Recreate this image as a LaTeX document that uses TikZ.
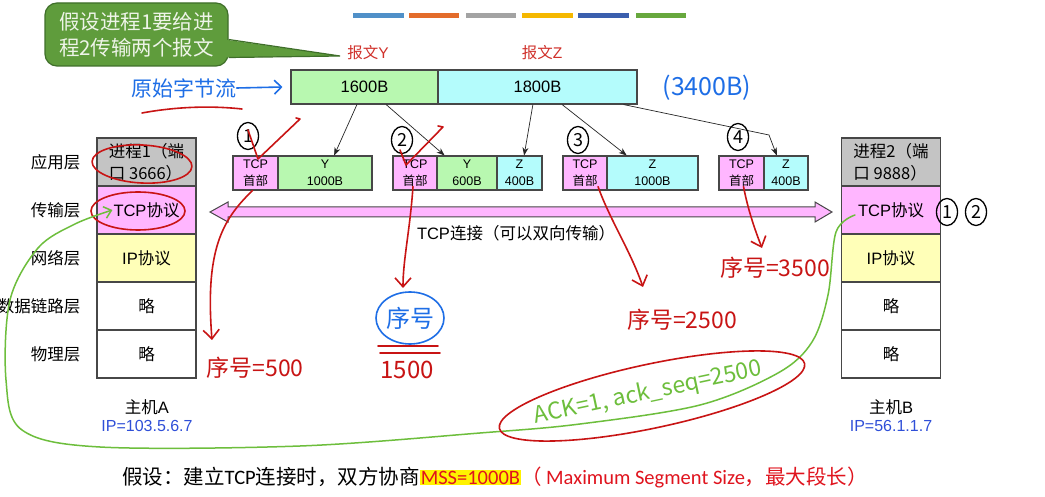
\documentclass[tikz,border=0pt]{standalone}
\usepackage{fontspec}
\setmainfont{Liberation Sans}
\newfontfamily\cjk{Noto Sans CJK SC}
\newfontfamily\carl{Carlito}
\usetikzlibrary{arrows.meta,shapes.geometric,calc}
\newcommand\latn[1]{{\rmfamily #1}}
\definecolor{bordc}{HTML}{474747}
\definecolor{appgray}{HTML}{C4C4C4}
\definecolor{tcppink}{HTML}{FFB6FF}
\definecolor{ipyel}{HTML}{FFFFB8}
\definecolor{ygreen}{HTML}{B8F8B0}
\definecolor{zcyan}{HTML}{B4FCFC}
\definecolor{calloutg}{HTML}{5F9C3C}
\definecolor{calloutb}{HTML}{3F6F2A}
\definecolor{callouttxt}{HTML}{EEF4E8}
\definecolor{lblred}{HTML}{D0302A}
\definecolor{ipblue}{HTML}{2F4FD8}
\definecolor{hred}{HTML}{C81414}
\definecolor{hblue}{HTML}{1E6EE6}
\definecolor{hgreen}{HTML}{6DBE3C}
\definecolor{notered}{HTML}{E0141E}
\definecolor{barA}{HTML}{5090C8}
\definecolor{barB}{HTML}{E36C2B}
\definecolor{barC}{HTML}{A3A3A3}
\definecolor{barD}{HTML}{F5B800}
\definecolor{barE}{HTML}{3B5FAE}
\definecolor{barF}{HTML}{67A83D}
\begin{document}
\begin{tikzpicture}[x=1pt,y=-1pt,
  layer/.style={draw=bordc, line width=1.1pt, minimum width=99pt, minimum height=48pt, inner sep=0pt, font=\cjk\fontsize{16.5}{22}\selectfont, align=center},
  seg/.style={draw=bordc, line width=1.1pt, minimum height=34pt, inner sep=0pt, font=\cjk\fontsize{12.5}{17}\selectfont, align=center},
  bar/.style={draw=bordc, line width=1.1pt, minimum height=34pt, inner sep=0pt, font=\rmfamily\fontsize{16.5}{20}\selectfont},
  lyrlbl/.style={anchor=east, font=\cjk\fontsize{16.5}{20}\selectfont},
  conn/.style={-{Stealth[length=8pt,width=6pt]}, line width=0.7pt, black!85},
  hand/.style={line width=1.6pt, line cap=round, line join=round},
  handarrow/.style={hand, hred, -{Straight Barb[length=9pt,width=16pt,line width=1.6pt]}},
  handtxt/.style={font=\cjk\fontsize{23}{24}\selectfont, inner sep=0pt},
  circnum/.style={draw=black, ellipse, line width=1.3pt, inner sep=0pt, minimum width=21pt, minimum height=27pt, font=\cjk\fontsize{18}{18}\selectfont}
]
\useasboundingbox (0,0) rectangle (1045,497);
\fill[white] (0,0) rectangle (1045,497);

% top colour bars
\foreach \xa/\xb/\c in {353/404/barA, 409/459/barB, 466/516/barC, 522/573/barD, 578/629/barE, 636/686/barF}
  \fill[\c] (\xa,13) rectangle (\xb,18.5);

% callout
\node[draw=calloutb, fill=calloutg, line width=1.2pt, rounded corners=12pt, minimum width=183pt, minimum height=63pt, inner sep=0pt,
      text=callouttxt, font=\cjk\fontsize{20.5}{26}\selectfont, align=center] (callout) at (136.5,34.5) {假设进程1要给进\\程2传输两个报文};
\coordinate (tailtip) at (340,56);
\fill[calloutg] ($(callout.east)+(-4,5)$) -- (tailtip) -- ($(callout.east)+(-4,23)$) -- cycle;
\draw[calloutb, line width=1.2pt] ($(callout.east)+(0,5)$) -- (tailtip) -- ($(callout.east)+(0,23)$);

% message labels
\node[text=lblred, font=\cjk\fontsize{15.5}{18}\selectfont] (lblY) at (368,53) {报文\latn{Y}};
\node[text=lblred, font=\cjk\fontsize{15.5}{18}\selectfont] (lblZ) at (542,53) {报文\latn{Z}};

% byte stream bar
\node[bar, fill=ygreen, minimum width=147pt] (ybar) at (364.5,87) {1600B};
\node[bar, fill=zcyan, minimum width=199pt] (zbar) at (537.5,87) {1800B};

% segments
\node[seg, fill=tcppink, minimum width=45pt] (s1h) at (255.5,173) {\latn{TCP}\\首部};
\node[seg, fill=ygreen, minimum width=94pt] (s1y) at (325,173) {\latn{Y}\\\latn{1000B}};
\node[seg, fill=tcppink, minimum width=44pt] (s2h) at (415,173) {\latn{TCP}\\首部};
\node[seg, fill=ygreen, minimum width=60pt] (s2y) at (467,173) {\latn{Y}\\\latn{600B}};
\node[seg, fill=zcyan, minimum width=45pt] (s2z) at (519.5,173) {\latn{Z}\\\latn{400B}};
\node[seg, fill=tcppink, minimum width=44pt] (s3h) at (585,173) {\latn{TCP}\\首部};
\node[seg, fill=zcyan, minimum width=91pt] (s3z) at (652.5,173) {\latn{Z}\\\latn{1000B}};
\node[seg, fill=tcppink, minimum width=45pt] (s4h) at (741.5,173) {\latn{TCP}\\首部};
\node[seg, fill=zcyan, minimum width=44pt] (s4z) at (786,173) {\latn{Z}\\\latn{400B}};

% arrows from stream to segments
\draw[conn] ($(ybar.south west)!0.449!(ybar.south east)$) -- ($(s1y.north west)!0.596!(s1y.north east)$);
\draw[conn] ($(ybar.south west)!0.646!(ybar.south east)$) -- ($(s2y.north west)!0.133!(s2y.north east)$);
\draw[conn] ($(zbar.south west)!0.477!(zbar.south east)$) -- ($(s2z.north west)!0.6!(s2z.north east)$);
\draw[conn] ($(zbar.south west)!0.623!(zbar.south east)$) -- ($(s3z.north west)!0.22!(s3z.north east)$);
\coordinate (bend4) at (769,135);
\draw[conn] ($(zbar.south west)!0.93!(zbar.south east)$) -- (bend4) -- ($(s4z.north west)!0.295!(s4z.north east)$);

% host A
\node[layer, fill=appgray, align=left] (a1) at (146.5,162) {进程1（端\\口 3666）};
\node[layer, fill=tcppink] (a2) at (146.5,210) {\latn{TCP}协议};
\node[layer, fill=ipyel] (a3) at (146.5,258) {\latn{IP}协议};
\node[layer, fill=white] (a4) at (146.5,306) {略};
\node[layer, fill=white] (a5) at (146.5,354) {略};
\node[lyrlbl] (l1) at (84,162) {应用层};
\node[lyrlbl] (l2) at (84,210) {传输层};
\node[lyrlbl] (l3) at (84,258) {网络层};
\node[lyrlbl] (l4) at (84,306) {数据链路层};
\node[lyrlbl] (l5) at (84,354) {物理层};
\node[font=\cjk\fontsize{16.5}{20}\selectfont] (hA) at (147,407) {主机\latn{A}};
\node[text=ipblue, font=\rmfamily\fontsize{16}{20}\selectfont] (ipA) at (147,426) {IP=103.5.6.7};

% host B
\node[layer, fill=appgray, align=left] (b1) at (891,162) {进程2（端\\口 9888）};
\node[layer, fill=tcppink] (b2) at (891,210) {\latn{TCP}协议};
\node[layer, fill=ipyel] (b3) at (891,258) {\latn{IP}协议};
\node[layer, fill=white] (b4) at (891,306) {略};
\node[layer, fill=white] (b5) at (891,354) {略};
\node[font=\cjk\fontsize{16.5}{20}\selectfont] (hB) at (891,407) {主机\latn{B}};
\node[text=ipblue, font=\rmfamily\fontsize{16}{20}\selectfont] (ipB) at (891,426) {IP=56.1.1.7};

% TCP connection double arrow
\draw[bordc, fill=tcppink, line width=1pt, line join=miter]
  (210,212) -- (228,202) -- (228,207) -- (815,207) -- (815,202) -- (832,212) -- (815,222) -- (815,217) -- (228,217) -- (228,222) -- cycle;
\node[font=\cjk\fontsize{16.5}{20}\selectfont] (connlbl) at (516,233) {\latn{TCP}连接（可以双向传输）};

% bottom note
\node[anchor=west, inner sep=0pt, font=\cjk\fontsize{20.5}{24}\selectfont] (note) at (122,477)
  {假设：建立{\carl TCP}连接时，双方协商{\setlength\fboxsep{1pt}\colorbox{yellow}{\textcolor{notered}{\carl MSS=1000B}}}\textcolor{notered}{（{\carl\ Maximum Segment Size}，最大段长）}};

% ---------- handwritten annotations ----------
\node[handtxt, text=hblue, font=\cjk\fontsize{21}{22}\selectfont] (orig) at (184,88) {原始字节流};
\draw[hand, hblue, -{Straight Barb[length=7pt,width=14pt,line width=1.6pt]}] (orig.east) -- ($(ybar.west)+(-8,0)$);
\draw[hand, hred] (142,113) .. controls (180,106) and (215,106) .. (242,109);
\node[handtxt, text=hblue, font=\cjk\fontsize{25}{26}\selectfont] (total) at (707,88) {(3400B)};

\node[circnum] (c1) at (248,136) {1};
\node[circnum] (c2) at (402,140) {2};
\node[circnum] (c3) at (578,140) {3};
\node[circnum] (c4) at (738,137) {4};
\node[circnum] (cb1) at (947,212) {1};
\node[circnum] (cb2) at (976,212) {2};

% red checks
\draw[hand, hred] (248,130) -- (258,159) -- (300,119) -- (296,118);
\draw[hand, hred] (400,150) -- (406,165) -- (443,127) -- (438,126);

% red circles on host A
\draw[hand, hred, rotate around={-3:(142,164)}] (142,164) ellipse (50 and 19);
\draw[hand, hred] (138,211) ellipse (47 and 19);

% sequence number annotations
\node[handtxt, text=hred] (seq1) at (255,368) {序号=500};
\draw[handarrow] ($(s1h.south)+(-3,0)$) .. controls (222,220) and (205,250) .. (212,340);

\node[handtxt, text=hblue, font=\cjk\fontsize{24}{26}\selectfont] (seq2) at (410,318) {序号};
\draw[hand, hblue] (seq2) ellipse (34 and 26);
\draw[hand, hred] (378,346) -- (438,346);
\draw[hand, hred] (380,353) -- (440,353);
\node[handtxt, text=hred, font=\cjk\fontsize{24}{26}\selectfont] (seq2v) at (407,370) {1500};
\draw[handarrow] ($(s2h.south)+(-2,-4)$) .. controls (410,230) and (403,260) .. (403,288);

\node[handtxt, text=hred] (seq3) at (682,320) {序号=2500};
\draw[handarrow] ($(s3h.south)+(13,-4)$) .. controls (610,220) and (630,250) .. (643,287);

\node[handtxt, text=hred] (seq4) at (775,268) {序号=3500};
\draw[handarrow] ($(s4h.south)+(2,-4)$) .. controls (748,210) and (755,230) .. (762,248);

% green ACK curve
\draw[hand, hgreen, line width=1.5pt, -{Straight Barb[length=7pt,width=12pt,line width=1.5pt]}]
  plot[smooth, tension=0.55] coordinates {($(b2.west)+(14,5)$) (836,232) (828,295) (812,342) (778,373) (700,405) (580,424) (480,433) (300,446) (100,447) (22,430) (6,380) (10,300) (38,248) (75,224) ($(a2.west)+(16,0)$)};
\node[text=hgreen, rotate=12, font=\cjk\fontsize{23}{24}\selectfont] (ack) at (648,393) {ACK=1, ack\_seq=2500};
\node[ellipse, draw=hred, line width=1.6pt, rotate=12, minimum width=312pt, minimum height=64pt] (ackring) at (652,396) {};
\end{tikzpicture}
\end{document}
